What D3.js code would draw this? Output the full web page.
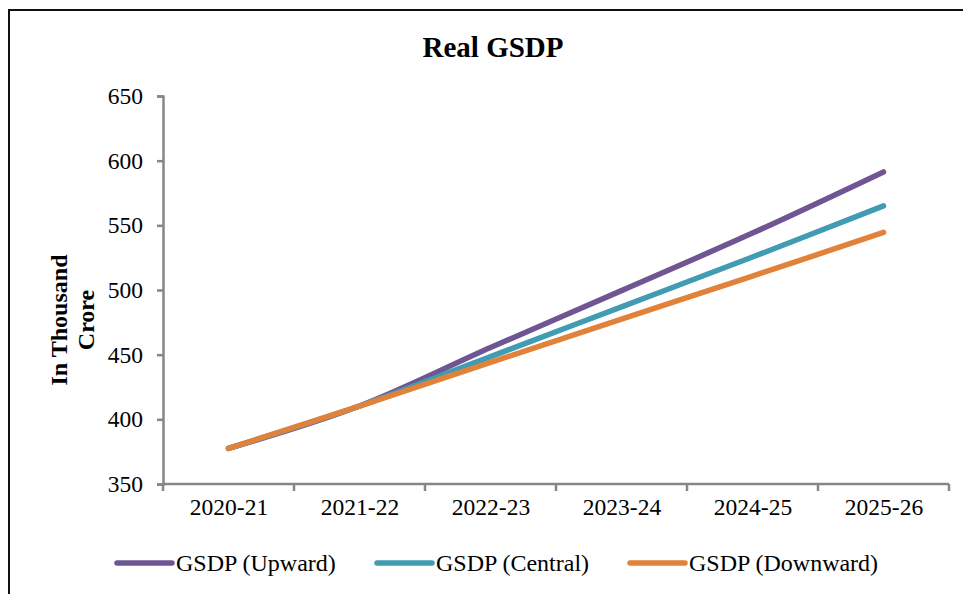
<!DOCTYPE html>
<html>
<head>
<meta charset="utf-8">
<script src="https://cdn.jsdelivr.net/npm/d3@7"></script>
<style>
  html, body { margin: 0; padding: 0; background: #fff; }
  svg { display: block; }
  text { font-family: "Liberation Serif", "Times New Roman", serif; fill: #000; }
</style>
</head>
<body>
<svg id="chart" width="963" height="594"></svg>
<script>
// Fiscal years on the category axis
const years = ["2020-21", "2021-22", "2022-23", "2023-24", "2024-25", "2025-26"];

// Projected real GSDP, in thousand crore
const upward   = [377.5, 410.3, 455.5, 499.5, 544.0, 591.3];
const central  = [377.5, 410.3, 448.5, 487.0, 525.5, 565.0];
const downward = [377.5, 410.3, 444.0, 477.5, 510.8, 544.5];

const seriesNames = ["GSDP (Upward)", "GSDP (Central)", "GSDP (Downward)"];
const yTicks = [350, 400, 450, 500, 550, 600, 650];

const series = [
  { name: seriesNames[0], values: upward,   color: "#6F5592" },
  { name: seriesNames[1], values: central,  color: "#409BB3" },
  { name: seriesNames[2], values: downward, color: "#E0823A" }
];

const svg = d3.select("#chart");
const plot = { left: 163, right: 949, top: 96, bottom: 484 };

// Outer frame (only top and left edges fall inside the view)
svg.append("path")
  .attr("d", "M9,594 L9,10 L963,10")
  .attr("fill", "none")
  .attr("stroke", "#111")
  .attr("stroke-width", 2);

const x = d3.scalePoint().domain(years).range([plot.left, plot.right]).padding(0.5);
const xBand = d3.scaleBand().domain(years).range([plot.left, plot.right]);
const y = d3.scaleLinear().domain([350, 650]).range([plot.bottom, plot.top]);

const axisColor = "#868686";

// Y axis
const gy = svg.append("g")
  .attr("transform", `translate(${plot.left},0)`)
  .call(d3.axisLeft(y).tickValues(yTicks).tickSize(6).tickPadding(14).tickFormat(d3.format("d")));
gy.select(".domain").attr("stroke", axisColor).attr("stroke-width", 2.5);
gy.selectAll(".tick line").attr("stroke", axisColor).attr("stroke-width", 2.5);
gy.selectAll(".tick text")
  .style("font-family", "'Liberation Serif', 'Times New Roman', serif")
  .style("font-size", "23.5px")
  .attr("fill", "#000");

// X axis: labels centred under each category, tick marks on category boundaries
const gx = svg.append("g")
  .attr("transform", `translate(0,${plot.bottom})`)
  .call(d3.axisBottom(x).tickSize(0).tickPadding(14));
gx.select(".domain").remove();
gx.selectAll(".tick text")
  .style("font-family", "'Liberation Serif', 'Times New Roman', serif")
  .style("font-size", "23.5px")
  .attr("fill", "#000");

const boundaries = years.map(d => xBand(d)).concat([xBand(years[years.length - 1]) + xBand.bandwidth()]);
svg.append("line")
  .attr("x1", plot.left).attr("x2", plot.right)
  .attr("y1", plot.bottom).attr("y2", plot.bottom)
  .attr("stroke", axisColor).attr("stroke-width", 2.5);
svg.append("g").selectAll("line").data(boundaries).join("line")
  .attr("x1", d => d).attr("x2", d => d)
  .attr("y1", plot.bottom).attr("y2", plot.bottom + 7)
  .attr("stroke", axisColor).attr("stroke-width", 2.5);

// Y axis title
svg.append("text")
  .attr("transform", "translate(67,320) rotate(-90)")
  .attr("text-anchor", "middle")
  .style("font-size", "24px")
  .style("font-weight", "bold")
  .selectAll("tspan")
  .data(["In Thousand", "Crore"])
  .join("tspan")
  .attr("x", 0)
  .attr("dy", (d, i) => i === 0 ? 0 : 27)
  .text(d => d);

// Chart title
svg.append("text")
  .attr("x", 493).attr("y", 57)
  .attr("text-anchor", "middle")
  .style("font-size", "29px")
  .style("font-weight", "bold")
  .text("Real GSDP");

// Series lines
const line = d3.line()
  .x((d, i) => x(years[i]))
  .y(d => y(d))
  .curve(d3.curveCatmullRom.alpha(0.5));

svg.append("g").selectAll("path").data(series).join("path")
  .attr("d", d => line(d.values))
  .attr("fill", "none")
  .attr("stroke", d => d.color)
  .attr("stroke-width", 5.5)
  .attr("stroke-linecap", "round")
  .attr("stroke-linejoin", "round");

// Legend
const legendX = [117, 377, 630];
const lg = svg.append("g").selectAll("g").data(series).join("g")
  .attr("transform", (d, i) => `translate(${legendX[i]},563)`);
lg.append("line")
  .attr("x1", 0).attr("x2", 55)
  .attr("y1", 0).attr("y2", 0)
  .attr("stroke", d => d.color)
  .attr("stroke-width", 5.5)
  .attr("stroke-linecap", "round");
lg.append("text")
  .attr("x", 59).attr("y", 0)
  .attr("dy", "0.35em")
  .style("font-size", "24px")
  .text(d => d.name);
</script>
</body>
</html>
